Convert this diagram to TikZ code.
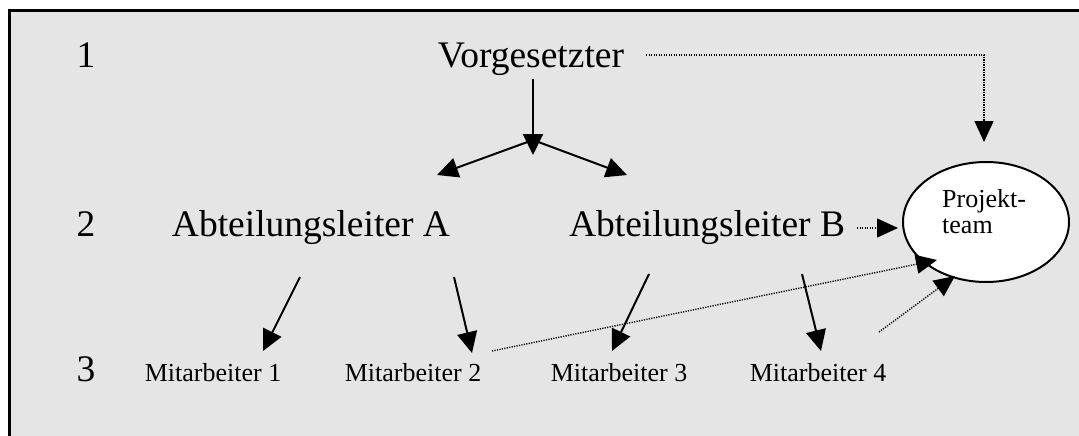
\documentclass[tikz,border=0pt]{standalone}
\usepackage{fontspec}
\setmainfont{Liberation Serif}
\usetikzlibrary{arrows.meta,shapes.geometric}

\begin{document}
\begin{tikzpicture}
[x=1pt,y=-1pt,%
  bigText/.style={inner sep=0pt,anchor=base,font=\fontsize{37.5}{40}\selectfont},%
  smallText/.style={inner sep=0pt,anchor=base,font=\fontsize{26}{28}\selectfont},%
  teamDecorate/.style={shape=ellipse,draw,fill=white,line width=2pt,minimum width=166pt,minimum height=120pt},%
  lineDecorate/.style={line width=2pt,-{Triangle[length=21pt,width=20pt]}},%
  dotDecorate/.style={line width=1.4pt,dash pattern=on 1.2pt off 1.3pt,-{Triangle[length=21pt,width=19pt]}}]
\useasboundingbox (0,0) rectangle (1079,436);
%% background and frame
\fill[gray!20] (9,10) rectangle (1079,436);
\draw[line width=3pt] (9.5,436) -- (9.5,10.5) -- (1079,10.5);
%% level numbers
\foreach \levelname/\y in {1/68, 2/236, 3/381}
{
  \node (level\levelname) at (86,\y) [bigText] {\levelname};
}
%% nodes
\node (vorg) at (531,67) [bigText] {Vorgesetzter};
\node (abtA) at (311,236) [bigText] {Abteilungsleiter A};
\node (abtB) at (707,236) [bigText] {Abteilungsleiter B};
\foreach \nodename/\x in {1/213, 2/413, 3/619, 4/818}
{
  \node (mit\nodename) at (\x,381) [smallText] {Mitarbeiter \nodename};
}
\node (team) at (986,222) [teamDecorate] {};
\node (teamA) at (942,207) [smallText,anchor=base west] {Projekt-};
\node (teamB) at (942,233) [smallText,anchor=base west] {team};
%% connector ends
\foreach \pointname/\x/\y in {
  vorgOut/533/79, forkIn/533/155, forkOut/533/140, abtAIn/437/175, abtBIn/627/175,
  abtAOut1/300/277, abtAOut2/454/277, abtBOut1/649/274, abtBOut2/802/274,
  mit1In/263/351, mit2In/472/353, mit3In/612/351, mit4In/821/351,
  vorgDot/646/55, cornerDot/984/55, teamTop/984/142,
  abtBDot/857/228, teamLeft/898/228, mit2Dot/492/351, teamLow1/937/260,
  mit4Dot/879/332, teamLow2/955/276}
{
  \coordinate (\pointname) at (\x,\y);
}
%% edges or lines
\path
\foreach \startnode/\endnode in {
  vorgOut/forkIn, forkOut/abtAIn, forkOut/abtBIn,
  abtAOut1/mit1In, abtAOut2/mit2In, abtBOut1/mit3In, abtBOut2/mit4In}
{
  (\startnode) edge[lineDecorate] (\endnode)
};
\path
\foreach \startnode/\endnode in {
  abtBDot/teamLeft, mit2Dot/teamLow1, mit4Dot/teamLow2}
{
  (\startnode) edge[dotDecorate] (\endnode)
};
\draw[dotDecorate] (vorgDot) -- (cornerDot) -- (teamTop);
\end{tikzpicture}
\end{document}
